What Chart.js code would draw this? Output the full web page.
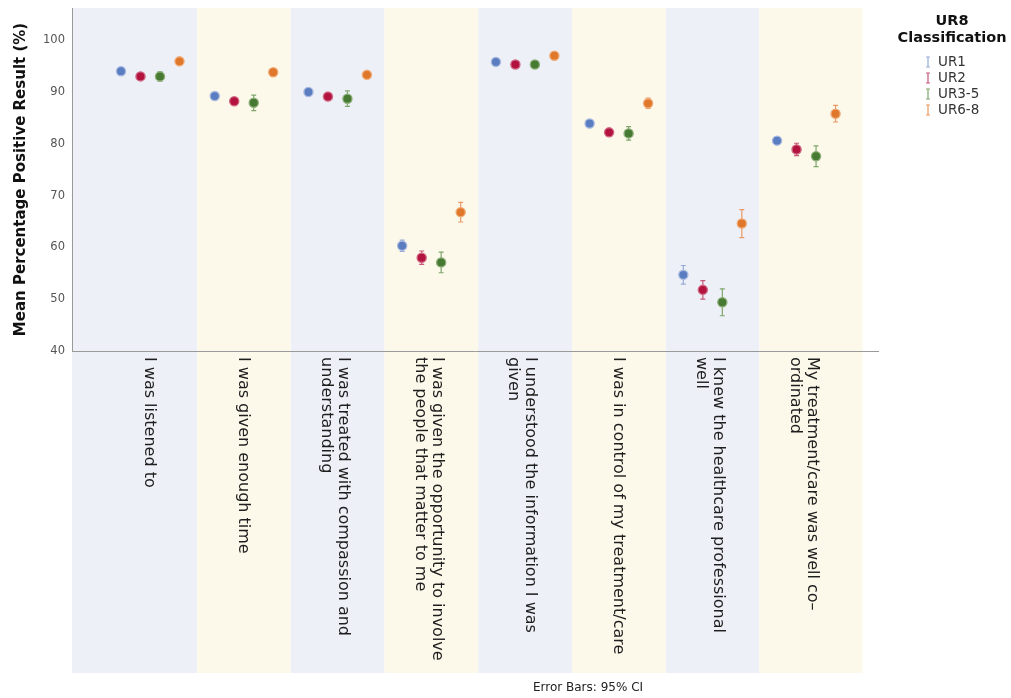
<!DOCTYPE html>
<html>
<head>
<meta charset="utf-8">
<script src="https://cdn.jsdelivr.net/npm/chart.js@4.4.1/dist/chart.umd.min.js"></script>
<style>
  html, body { margin: 0; padding: 0; background: #fff; }
</style>
</head>
<body>
<canvas id="chart" width="1011" height="698"></canvas>
<script>
// categories (line breaks as in the original)
const categories = [
    'I was listened to',
    'I was given enough time',
    ['I was treated with compassion and', 'understanding'],
    ['I was given the opportunity to involve', 'the people that matter to me'],
    ['I understood the information I was', 'given'],
    'I was in control of my treatment/care',
    ['I knew the healthcare professional', 'well'],
    ['My treatment/care was well co\u2013', 'ordinated']
];
const seriesNames = ['UR1', 'UR2', 'UR3-5', 'UR6-8'];

// means per group
const meanUR1  = [94.0, 89.2, 90.0, 60.3, 95.8, 83.9, 54.7, 80.6];
const meanUR2  = [93.0, 88.2, 89.1, 58.0, 95.3, 82.2, 51.8, 78.9];
const meanUR35 = [93.0, 87.9, 88.7, 57.1, 95.3, 82.0, 49.4, 77.6];
const meanUR68 = [95.9, 93.8, 93.3, 66.8, 97.0, 87.8, 64.6, 85.8];

// 95% CI half widths
const ciUR1  = [0.4, 0.5, 0.5, 1.1, 0.3, 0.4, 1.8, 0.5];
const ciUR2  = [0.5, 0.6, 0.6, 1.3, 0.4, 0.7, 1.8, 1.2];
const ciUR35 = [0.9, 1.5, 1.5, 2.0, 0.6, 1.3, 2.6, 2.0];
const ciUR68 = [0.6, 0.7, 0.6, 1.9, 0.5, 1.0, 2.7, 1.6];

const yTicks = [40, 50, 60, 70, 80, 90, 100];

const means = [meanUR1, meanUR2, meanUR35, meanUR68];
const cis = [ciUR1, ciUR2, ciUR35, ciUR68];
const pointColors = ['#5a7cc0', '#b3143f', '#467a32', '#e0782c'];
const ringColors = ['#a9badf', '#d06a86', '#8fb07c', '#f0ac78'];
const barColors = ['#97acd8', '#c45a7a', '#80a66c', '#e99a66'];
const offsets = [-0.312, -0.104, 0.104, 0.312];

const datasets = seriesNames.map((name, s) => ({
    label: name,
    data: means[s].map((v, i) => ({ x: i + offsets[s], y: v })),
    backgroundColor: pointColors[s],
    borderColor: ringColors[s],
    borderWidth: 1.3,
    pointRadius: 4.6,
    pointHoverRadius: 4.6,
    showLine: false
}));

const bands = {
    id: 'bands',
    beforeDraw(chart) {
        const { ctx, chartArea, scales: { x } } = chart;
        const bottom = chartArea.bottom + 322;
        ctx.save();
        categories.forEach((c, i) => {
            const l = i === 0 ? x.min : i - 0.5;
            const r = i === categories.length - 1 ? i + 0.6 : i + 0.5;
            const x0 = x.getPixelForValue(l);
            const x1 = x.getPixelForValue(r);
            ctx.fillStyle = i % 2 ? '#fdf9ea' : '#eef0f8';
            ctx.fillRect(x0, chartArea.top, x1 - x0, bottom - chartArea.top);
        });
        ctx.restore();
    }
};

const errorBars = {
    id: 'errorBars',
    beforeDatasetsDraw(chart) {
        const { ctx, scales: { x, y } } = chart;
        ctx.save();
        ctx.lineWidth = 1.2;
        chart.data.datasets.forEach((ds, s) => {
            ctx.strokeStyle = barColors[s];
            ds.data.forEach((p, i) => {
                const px = x.getPixelForValue(p.x);
                const top = y.getPixelForValue(p.y + cis[s][i]);
                const bot = y.getPixelForValue(p.y - cis[s][i]);
                ctx.beginPath();
                ctx.moveTo(px, top); ctx.lineTo(px, bot);
                ctx.moveTo(px - 2.5, top); ctx.lineTo(px + 2.5, top);
                ctx.moveTo(px - 2.5, bot); ctx.lineTo(px + 2.5, bot);
                ctx.stroke();
            });
        });
        ctx.restore();
    }
};

const labelsAndLegend = {
    id: 'labelsAndLegend',
    afterDraw(chart) {
        const { ctx, chartArea, scales: { x } } = chart;
        ctx.save();
        // rotated category labels
        ctx.font = '16px "DejaVu Sans"';
        ctx.fillStyle = '#1e1e1e';
        ctx.textAlign = 'left';
        ctx.textBaseline = 'middle';
        const lh = 17;
        categories.forEach((lab, i) => {
            const lines = Array.isArray(lab) ? lab : [lab];
            const cx = x.getPixelForValue(i) - 1 - (lines.length - 1) * 2;
            const first = cx + (lines.length - 1) * lh / 2;
            lines.forEach((ln, k) => {
                ctx.save();
                ctx.translate(first - k * lh, chartArea.bottom + 6);
                ctx.rotate(Math.PI / 2);
                ctx.fillText(ln, 0, 0);
                ctx.restore();
            });
        });

        // footnote
        ctx.font = '12px "DejaVu Sans"';
        ctx.fillStyle = '#222';
        ctx.textAlign = 'center';
        ctx.fillText('Error Bars: 95% CI', 588, 688);

        // legend
        const lx = 952;
        ctx.font = 'bold 14.5px "DejaVu Sans"';
        ctx.fillStyle = '#111';
        ctx.fillText('UR8', lx, 21);
        ctx.fillText('Classification', lx, 38);
        ctx.font = '13.5px "DejaVu Sans"';
        ctx.textAlign = 'left';
        seriesNames.forEach((name, s) => {
            const yy = 62 + s * 16;
            ctx.strokeStyle = barColors[s];
            ctx.lineWidth = 1.2;
            ctx.beginPath();
            ctx.moveTo(928, yy - 5); ctx.lineTo(928, yy + 5);
            ctx.moveTo(926, yy - 5); ctx.lineTo(930, yy - 5);
            ctx.moveTo(926, yy + 5); ctx.lineTo(930, yy + 5);
            ctx.stroke();
            ctx.fillStyle = '#333';
            ctx.fillText(name, 938, yy);
        });
        ctx.restore();
    }
};

new Chart(document.getElementById('chart').getContext('2d'), {
    type: 'scatter',
    data: { datasets: datasets },
    options: {
        responsive: false,
        animation: false,
        devicePixelRatio: 1,
        layout: { padding: { top: 8, right: 133, bottom: 347, left: 0 } },
        plugins: {
            legend: { display: false },
            tooltip: { enabled: false }
        },
        scales: {
            x: {
                type: 'linear',
                min: -0.835,
                max: 7.765,
                grid: { display: false, drawTicks: false },
                border: { display: true, color: '#9a9a9a', width: 1 },
                ticks: { display: false }
            },
            y: {
                min: 40,
                max: 106.2,
                afterBuildTicks: axis => { axis.ticks = yTicks.map(v => ({ value: v })); },
                afterFit: scale => {
                    scale.width = 72;
                    scale.paddingTop = 0;
                    scale.paddingBottom = 0;
                },
                grid: { display: false, drawTicks: false },
                border: { display: true, color: '#9a9a9a', width: 1 },
                ticks: {
                    padding: 7,
                    color: '#555',
                    font: { family: 'DejaVu Sans', size: 11.5 }
                },
                title: {
                    display: true,
                    text: 'Mean Percentage Positive Result (%)',
                    color: '#111',
                    font: { family: 'DejaVu Sans', size: 15, weight: 'bold' },
                    padding: { top: 12, bottom: 0 }
                }
            }
        }
    },
    plugins: [bands, errorBars, labelsAndLegend]
});
</script>
</body>
</html>
